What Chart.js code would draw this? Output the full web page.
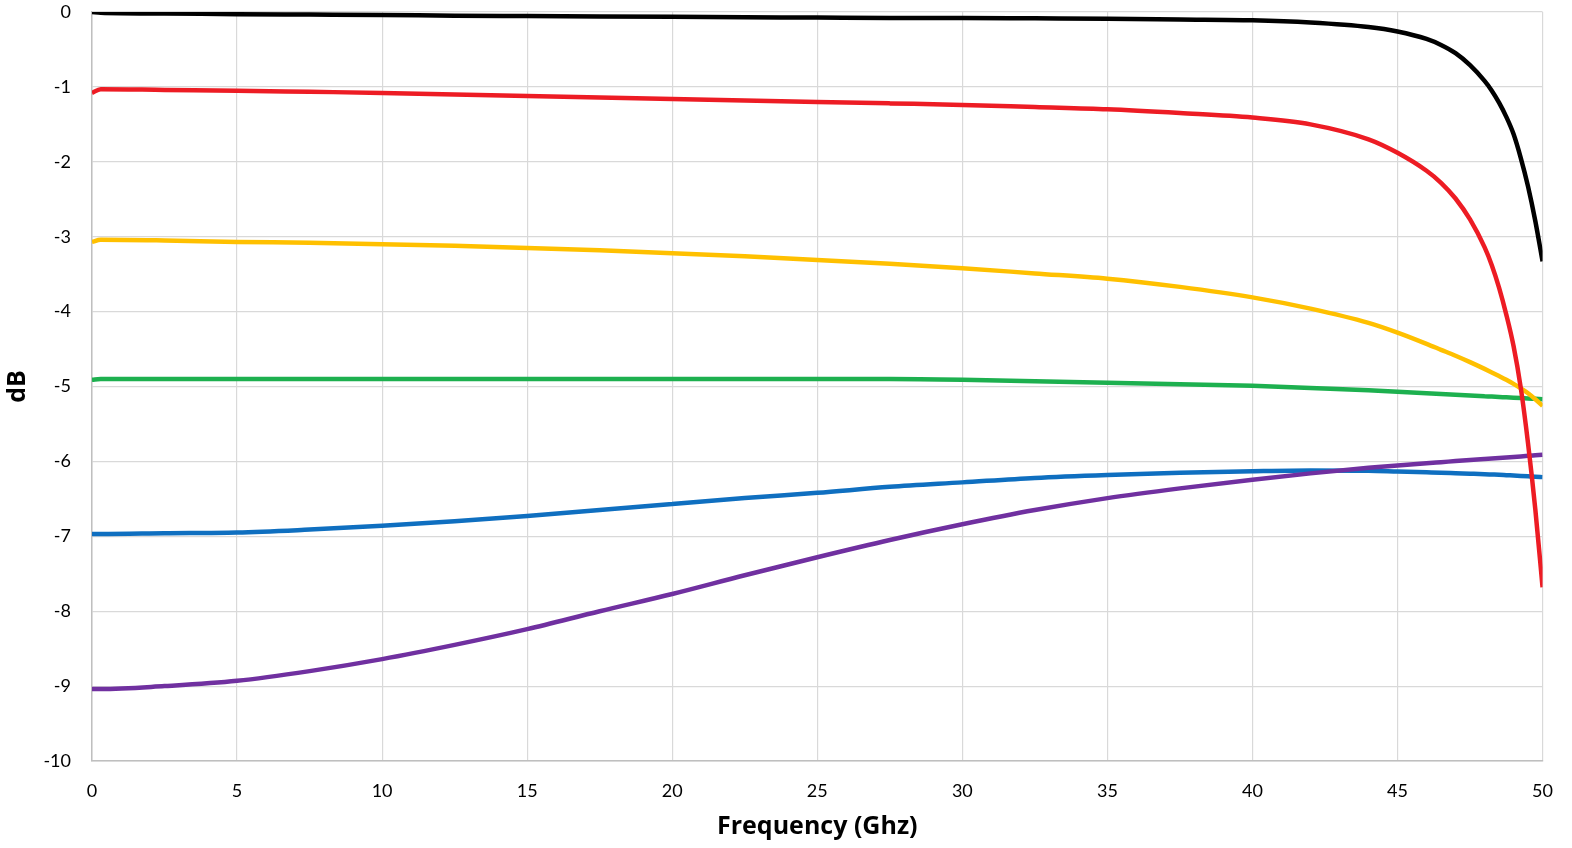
<!DOCTYPE html>
<html>
<head>
<meta charset="utf-8">
<title>dB vs Frequency</title>
<script src="https://cdn.jsdelivr.net/npm/chart.js@4/dist/chart.umd.min.js"></script>
<style>
    html, body { margin: 0; padding: 0; background: #ffffff; }
    #wrap { width: 1572px; height: 848px; position: relative; }
</style>
</head>
<body>
<div id="wrap"><canvas id="chart" width="1572" height="848"></canvas></div>
<script>
// Frequency points (GHz), shared by every curve
const freq = [0, 0.3, 2.5, 5, 7.5, 10, 12.5, 15, 17.5, 20, 22.5, 25, 27.5, 30, 32.5, 35, 37.5, 40, 42, 44, 45, 46, 46.5, 47, 47.5, 48, 48.25, 48.5, 48.75, 49, 49.25, 49.5, 49.75, 50];

// Values (dB)
const blackCurve = [0, -0.01, -0.02, -0.03, -0.035, -0.04, -0.05, -0.055, -0.06, -0.065, -0.07, -0.075, -0.08, -0.08, -0.085, -0.09, -0.1, -0.11, -0.14, -0.2, -0.26, -0.36, -0.44, -0.55, -0.71, -0.92, -1.05, -1.21, -1.4, -1.63, -1.95, -2.33, -2.79, -3.33];
const redCurve = [-1.08, -1.03, -1.04, -1.05, -1.065, -1.08, -1.1, -1.12, -1.14, -1.16, -1.18, -1.2, -1.22, -1.24, -1.27, -1.3, -1.35, -1.41, -1.5, -1.7, -1.88, -2.12, -2.28, -2.49, -2.77, -3.14, -3.38, -3.68, -4.04, -4.46, -5.02, -5.76, -6.64, -7.68];
const yellowCurve = [-3.07, -3.04, -3.05, -3.07, -3.08, -3.1, -3.12, -3.15, -3.18, -3.22, -3.26, -3.31, -3.36, -3.42, -3.49, -3.56, -3.67, -3.81, -3.96, -4.15, -4.28, -4.43, -4.51, -4.59, -4.675, -4.765, -4.812, -4.86, -4.91, -4.965, -5.025, -5.09, -5.17, -5.26];
const greenCurve = [-4.91, -4.9, -4.9, -4.9, -4.9, -4.9, -4.9, -4.9, -4.9, -4.9, -4.9, -4.9, -4.9, -4.91, -4.93, -4.95, -4.97, -4.99, -5.02, -5.05, -5.07, -5.09, -5.1, -5.11, -5.12, -5.13, -5.135, -5.14, -5.145, -5.15, -5.155, -5.16, -5.165, -5.17];
const blueCurve = [-6.97, -6.97, -6.96, -6.95, -6.91, -6.86, -6.8, -6.73, -6.65, -6.57, -6.49, -6.42, -6.34, -6.28, -6.22, -6.18, -6.15, -6.13, -6.12, -6.125, -6.135, -6.145, -6.15, -6.157, -6.164, -6.171, -6.175, -6.179, -6.184, -6.189, -6.194, -6.199, -6.204, -6.21];
const purpleCurve = [-9.04, -9.04, -9.0, -8.93, -8.8, -8.64, -8.45, -8.24, -8.0, -7.77, -7.52, -7.28, -7.05, -6.84, -6.65, -6.49, -6.36, -6.245, -6.16, -6.086, -6.054, -6.024, -6.01, -5.996, -5.982, -5.968, -5.961, -5.954, -5.947, -5.94, -5.933, -5.926, -5.918, -5.91];

const xTitle = 'Frequency (Ghz)';
const yTitle = 'dB';

function toPoints(values) {
    return values.map((v, i) => ({ x: freq[i], y: v }));
}

function series(values, color) {
    return {
        data: toPoints(values),
        borderColor: color,
        backgroundColor: color,
        borderWidth: 4.5,
        pointRadius: 0,
        cubicInterpolationMode: 'monotone',
        fill: false
    };
}

const gridGray = '#d9d9d9';
const tickFont = { family: 'Lato, "Open Sans", sans-serif', size: 18 };
const titleFont = { family: '"Open Sans", Lato, sans-serif', size: 25, weight: 'bold' };

const ctx = document.getElementById('chart').getContext('2d');
const chart = new Chart(ctx, {
    type: 'line',
    data: {
        // first dataset is drawn on top
        datasets: [
            series(redCurve, '#ed1c24'),
            series(blackCurve, '#000000'),
            series(yellowCurve, '#ffc000'),
            series(greenCurve, '#1db04f'),
            series(purpleCurve, '#7030a0'),
            series(blueCurve, '#0f6fc0')
        ]
    },
    options: {
        responsive: false,
        animation: false,
        layout: { padding: { top: 12, right: 29, left: 0, bottom: 0 } },
        plugins: {
            legend: { display: false },
            tooltip: { enabled: false }
        },
        scales: {
            x: {
                type: 'linear',
                min: 0,
                max: 50,
                ticks: { stepSize: 5, color: '#000000', font: tickFont, padding: 19, maxRotation: 0 },
                grid: { color: gridGray, lineWidth: 1.2, drawTicks: false },
                border: { color: '#bfbfbf', width: 1.5 },
                title: { display: true, text: xTitle, color: '#000000', font: titleFont, padding: { top: 0, bottom: 6 } },
                afterFit: (scale) => { scale.height = 87; }
            },
            y: {
                type: 'linear',
                min: -10,
                max: 0,
                ticks: { stepSize: 1, color: '#000000', font: tickFont, padding: 21 },
                grid: { color: gridGray, lineWidth: 1.2, drawTicks: false },
                border: { color: '#bfbfbf', width: 1.5 },
                title: { display: true, text: yTitle, color: '#000000', font: titleFont, padding: { top: 3, bottom: 0 } },
                afterFit: (scale) => {
                    scale.width = 92;
                    // tick padding would otherwise push the plot top down
                    scale.paddingTop = 0;
                    scale.paddingBottom = 0;
                }
            }
        }
    }
});
</script>
</body>
</html>
